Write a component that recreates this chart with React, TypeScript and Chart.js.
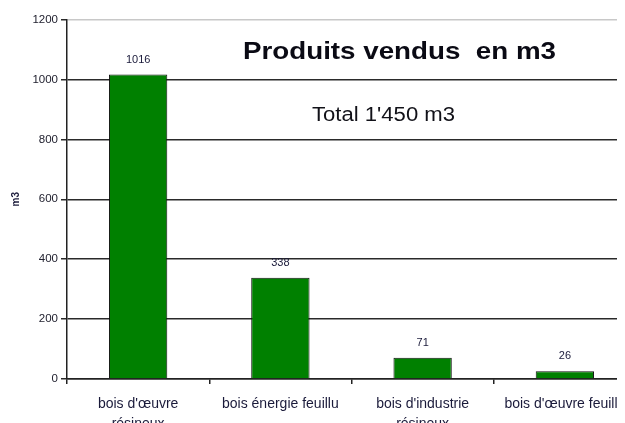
import React, { useEffect, useRef } from "react";
import { Chart, registerables } from "chart.js";

Chart.register(...registerables);

const categories: (string | string[])[] = [
  ["bois d'œuvre", "résineux"],
  "bois énergie feuillu",
  ["bois d'industrie", "résineux"],
  "bois d'œuvre feuillu",
];
const volumes: number[] = [1016, 338, 71, 26];
const yTicks: number[] = [0, 200, 400, 600, 800, 1000, 1200];
const chartTitle = "Produits vendus  en m3";
const chartSubtitle = "Total 1'450 m3";
const yAxisTitle = "m3";

function drawFitted(ctx: CanvasRenderingContext2D, text: string, font: string, x0: number, x1: number, baseline: number, color: string) {
  ctx.save();
  ctx.font = font;
  const w = ctx.measureText(text).width;
  const sx = (x1 - x0) / w;
  ctx.translate(x0, baseline);
  ctx.scale(sx, 1);
  ctx.textAlign = "left";
  ctx.textBaseline = "alphabetic";
  ctx.fillStyle = color;
  ctx.fillText(text, 0, 0);
  ctx.restore();
}

const annotations = {
  id: "annotations",
  afterDatasetsDraw(chart: any) {
    const ctx = chart.ctx as CanvasRenderingContext2D;
    const meta = chart.getDatasetMeta(0);
    ctx.save();
    ctx.font = "11px Arial, 'Liberation Sans', sans-serif";
    ctx.fillStyle = "#1a1a3a";
    ctx.textAlign = "center";
    ctx.textBaseline = "middle";
    meta.data.forEach((bar: any, i: number) => {
      ctx.fillText(String(volumes[i]), bar.x, bar.y - 15);
    });
    ctx.restore();
    drawFitted(ctx, chartTitle, "bold 24px Arial, 'Liberation Sans', sans-serif", 235, 548, 51, "#0a0a14");
    drawFitted(ctx, chartSubtitle, "20px Arial, 'Liberation Sans', sans-serif", 304, 447, 112.5, "#111118");
  },
};

export default function App() {
  const ref = useRef<HTMLCanvasElement>(null);
  useEffect(() => {
    if (!ref.current) return;
    const chart = new Chart(ref.current, {
      type: "bar",
      data: {
        labels: categories,
        datasets: [
          {
            data: volumes,
            backgroundColor: "#008000",
            borderColor: "#111111",
            borderWidth: 1,
            barPercentage: 0.41,
            categoryPercentage: 1,
          },
        ],
      },
      options: {
        responsive: false,
        animation: false,
        devicePixelRatio: 1,
        layout: { padding: { left: 0, right: 12, top: 11.5, bottom: 0 } },
        plugins: {
          legend: { display: false },
          tooltip: { enabled: false },
          title: { display: false },
        },
        scales: {
          x: {
            offset: true,
            grid: {
              offset: true,
              drawOnChartArea: false,
              drawTicks: true,
              tickLength: 5,
              color: "#222222",
              tickColor: "#222222",
              lineWidth: 1.5,
            },
            border: { display: true, color: "#222222", width: 1.5 },
            ticks: {
              color: "#1a1a3a",
              font: { family: "Arial, 'Liberation Sans', sans-serif", size: 14, lineHeight: 20 / 14 },
              padding: 10,
              maxRotation: 0,
              autoSkip: false,
            },
            afterFit: (scale: any) => {
              scale.height = 59;
            },
          },
          y: {
            min: 0,
            max: 1200,
            afterBuildTicks: (scale: any) => {
              scale.ticks = yTicks.map((v) => ({ value: v }));
            },
            grid: {
              color: (c: any) => (c.tick && c.tick.value === 1200 ? "#c8c8c8" : "#2a2a2a"),
              tickColor: "#2a2a2a",
              lineWidth: 1.5,
              drawTicks: true,
              tickLength: 6,
            },
            border: { display: true, color: "#222222", width: 1.5 },
            ticks: {
              color: "#222230",
              font: { family: "Arial, 'Liberation Sans', sans-serif", size: 11.5 },
              padding: 3,
              callback: (v: any) => String(v),
            },
            title: {
              display: true,
              text: yAxisTitle,
              color: "#1a1a3a",
              font: { family: "Arial, 'Liberation Sans', sans-serif", size: 10, weight: "bold" },
              padding: { top: 2, bottom: 0 },
            },
            afterFit: (scale: any) => {
              scale.width = 59;
            },
          },
        },
      },
      plugins: [annotations],
    });
    return () => chart.destroy();
  }, []);
  return (
    <div style={{ position: "relative", width: 617, height: 415, overflow: "hidden" }}>
      <canvas ref={ref} width={640} height={430} style={{ display: "block", width: 640, height: 430 }} />
    </div>
  );
}
